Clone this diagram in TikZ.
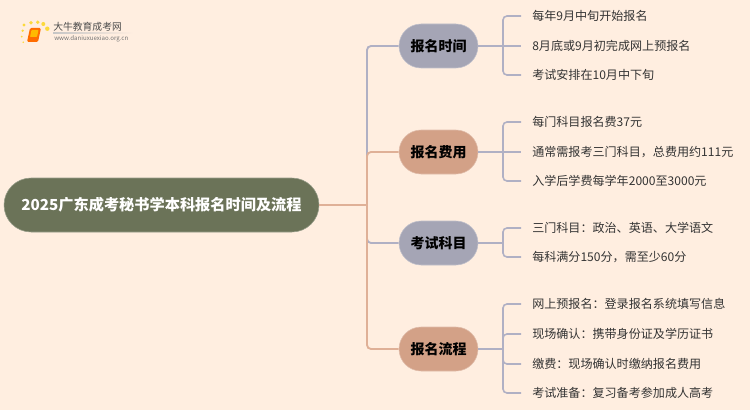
\documentclass[tikz,border=0pt]{standalone}
\usepackage{fontspec}
\setmainfont{Noto Sans CJK SC}
\newcommand\qcomma{\char"FF0C\relax}
\newcommand\qcolon{\char"FF1A\relax}
\definecolor{bgc}{HTML}{FFEEE0}
\definecolor{rootc}{HTML}{6B7358}
\definecolor{bluec}{HTML}{A5A5B5}
\definecolor{orc}{HTML}{D3A187}
\definecolor{lineb}{HTML}{B0B0C4}
\definecolor{lineo}{HTML}{DFB097}
\definecolor{txt}{HTML}{333333}
\tikzset{
 x=0.75pt,y=-0.75pt,
 rootnode/.style={rectangle,rounded corners=20.25pt,fill=rootc,draw=rootc!70!white,line width=0.4pt,minimum width=236.25pt,minimum height=40.5pt,inner sep=0pt,text=white,font=\fontsize{11.4pt}{14pt}\selectfont\bfseries},
 branchb/.style={rectangle,rounded corners=16.5pt,fill=bluec,draw=bluec!70!white,line width=0.4pt,minimum width=59.25pt,minimum height=33pt,inner sep=0pt,text=black,font=\fontsize{10.5pt}{13pt}\selectfont\bfseries},
 brancho/.style={branchb,fill=orc,draw=orc!70!white},
 leaf/.style={anchor=west,inner xsep=8.25pt,inner ysep=0pt,text=txt,font=\fontsize{9.05pt}{12pt}\selectfont},
 trunkb/.style={draw=lineb,line width=1.4pt,rounded corners=3pt},
 trunko/.style={draw=lineo,line width=1.4pt,rounded corners=3pt},
 leafline/.style={draw=lineb,line width=1.2pt,rounded corners=3pt},
 dot/.style={fill=#1,draw=none},
}
\begin{document}
\begin{tikzpicture}
\useasboundingbox (0,0) rectangle (750,410);
\fill[bgc] (0,0) rectangle (750,410);
% logo
\foreach \px/\py/\r in {24/25/1.6,22.7/30.7/1.3,31/22.7/1.9,37.7/22.3/1.9,43.3/24/2,47.3/28.7/2.2,21.7/36.7/1,23.3/42.3/0.9}
  \fill[dot=yellow!70!orange,opacity=0.75] (\px,\py) circle[radius=\r*0.75pt];
\fill[orange!85!red,rounded corners=1pt] (30,28) -- (41,28) -- (38,42) -- (27,42) -- cycle;
\fill[orange!55!yellow,rounded corners=0.5pt] (31.5,30) -- (38.5,30) -- (37,37) -- (30,37) -- cycle;
\shade[left color=gray!45,right color=bgc] (53,33) rectangle (133,33.8);
\node[anchor=west,inner sep=0pt,text=black!70,font=\fontsize{7.35pt}{9pt}\selectfont] (logot) at (53,27) {大牛教育成考网};
\node[anchor=west,inner sep=0pt,text=black!55,font=\fontsize{4.6pt}{6pt}\selectfont] (logou) at (54,39) {www.daniuxuexiao.org.cn};
% nodes
\node[rootnode] (root) at (161.5,205) {2025广东成考秘书学本科报名时间及流程};
\node[branchb] (b1) at (438.5,46) {报名时间};
\node[brancho] (b2) at (438.5,152) {报名费用};
\node[branchb] (b3) at (438.5,243) {考试科目};
\node[brancho] (b4) at (438.5,349) {报名流程};
\node[leaf] (a1) at (521,16) {每年9月中旬开始报名};
\node[leaf] (a2) at (521,46) {8月底或9月初完成网上预报名};
\node[leaf] (a3) at (521,75) {考试安排在10月中下旬};
\node[leaf] (c1) at (521,122) {每门科目报名费37元};
\node[leaf] (c2) at (521,152) {通常需报考三门科目\qcomma 总费用约111元};
\node[leaf] (c3) at (521,181) {入学后学费每学年2000至3000元};
\node[leaf] (d1) at (521,228) {三门科目\qcolon 政治、英语、大学语文};
\node[leaf] (d2) at (521,257) {每科满分150分\qcomma 需至少60分};
\node[leaf] (e1) at (521,304) {网上预报名\qcolon 登录报名系统填写信息};
\node[leaf] (e2) at (521,334) {现场确认\qcolon 携带身份证及学历证书};
\node[leaf] (e3) at (521,364) {缴费\qcolon 现场确认时缴纳报名费用};
\node[leaf] (e4) at (521,393) {考试准备\qcolon 复习备考参加成人高考};
% trunk
\coordinate (tr) at (367,205);
\draw[trunkb] (tr) |- (b1.west);
\draw[trunkb] (tr) |- (b3.west);
\draw[trunko] (tr) |- (b2.west);
\draw[trunko] (tr) |- (b4.west);
\draw[trunko] (root.east) -- (tr);
% leaf brackets
\coordinate (j1) at (503,46);
\coordinate (j2) at (503,152);
\coordinate (j3) at (503,243);
\coordinate (j4) at (503,349);
\draw[leafline] (b1.east) -- (j1);
\draw[leafline] (b2.east) -- (j2);
\draw[leafline] (b3.east) -- (j3);
\draw[leafline] (b4.east) -- (j4);
\foreach \j/\l in {j1/a1,j1/a3,j2/c1,j2/c3,j3/d1,j3/d2,j4/e1,j4/e2,j4/e3,j4/e4}
  \draw[leafline] (\j) |- (\l.west);
\draw[leafline] (j1) -- (a2.west);
\draw[leafline] (j2) -- (c2.west);
\end{tikzpicture}
\end{document}
